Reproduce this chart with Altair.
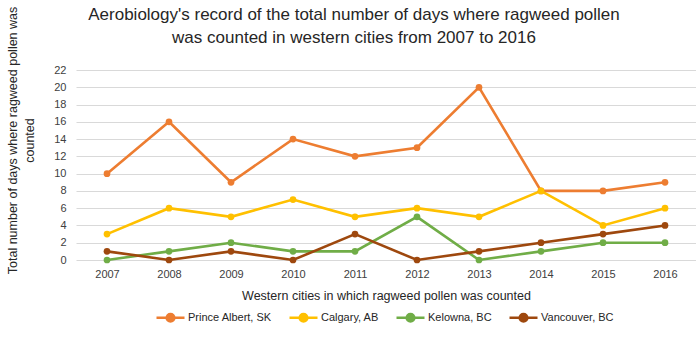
import altair as alt
import pandas as pd

years = ["2007", "2008", "2009", "2010", "2011", "2012", "2013", "2014", "2015", "2016"]
series_names = ["Prince Albert, SK", "Calgary, AB", "Kelowna, BC", "Vancouver, BC"]
prince_albert = [10, 16, 9, 14, 12, 13, 20, 8, 8, 9]
calgary = [3, 6, 5, 7, 5, 6, 5, 8, 4, 6]
kelowna = [0, 1, 2, 1, 1, 5, 0, 1, 2, 2]
vancouver = [1, 0, 1, 0, 3, 0, 1, 2, 3, 4]
colors = ["#ED7D31", "#FFC000", "#70AD47", "#9E480E"]

rows = []
for name, vals in zip(series_names, [prince_albert, calgary, kelowna, vancouver]):
    for y, v in zip(years, vals):
        rows.append({"Year": y, "City": name, "Days": v})
df = pd.DataFrame(rows)

FONT = "Liberation Sans"
sym = "M-1,0L1,0M-0.27,0A0.27,0.27,0,1,0,0.27,0A0.27,0.27,0,1,0,-0.27,0Z"

chart = alt.Chart(df).mark_line(
    strokeWidth=2.6,
    point=alt.OverlayMarkDef(filled=True, size=45, opacity=1),
).encode(
    x=alt.X("Year:O", sort=years,
            scale=alt.Scale(type="point", padding=0.5),
            axis=alt.Axis(title="Western cities in which ragweed pollen was counted",
                          labelAngle=0, ticks=False, domain=False, grid=False,
                          labelPadding=8, titlePadding=10,
                          labelFontSize=11, titleFontSize=12.5, titleFontWeight="normal",
                          labelColor="#404040", titleColor="#262626")),
    y=alt.Y("Days:Q", scale=alt.Scale(domain=[0, 22], nice=False),
            axis=alt.Axis(title=["Total number of days where ragweed  pollen was", "counted"],
                          values=list(range(0, 23, 2)), ticks=False, domain=False,
                          labelPadding=10, labelFontSize=11, labelColor="#404040",
                          titleFontSize=12.5, titleFontWeight="normal", titleColor="#262626",
                          titleX=-70, titleY=70, titleAngle=-90,
                          titleAlign="center", titleBaseline="top",
                          titleLineHeight=17,
                          gridColor="#D9D9D9", gridWidth=1)),
    color=alt.Color("City:N", sort=series_names,
                    scale=alt.Scale(domain=series_names, range=colors),
                    legend=alt.Legend(title=None, orient="none", direction="horizontal",
                                      legendX=79, legendY=232, columns=4,
                                      columnPadding=12,
                                      symbolType=sym, symbolSize=784,
                                      symbolStrokeWidth=2.6, labelFontSize=11,
                                      labelColor="#262626", labelOffset=2)),
).properties(
    width=620,
    height=190,
    title=alt.TitleParams(
        text=["Aerobiology's record of the total number of days where ragweed pollen",
              "was counted in western cities from 2007 to 2016"],
        fontSize=17, font=FONT, fontWeight="normal", color="#262626",
        anchor="middle", dx=-32, offset=-42, lineHeight=23),
    autosize=alt.AutoSizeParams(type="none"),
    padding={"left": 76, "top": 70, "right": 0, "bottom": 86},
).configure(font=FONT).configure_view(stroke=None)

chart.save("out.html", embed_options={"renderer": "svg", "actions": False})
